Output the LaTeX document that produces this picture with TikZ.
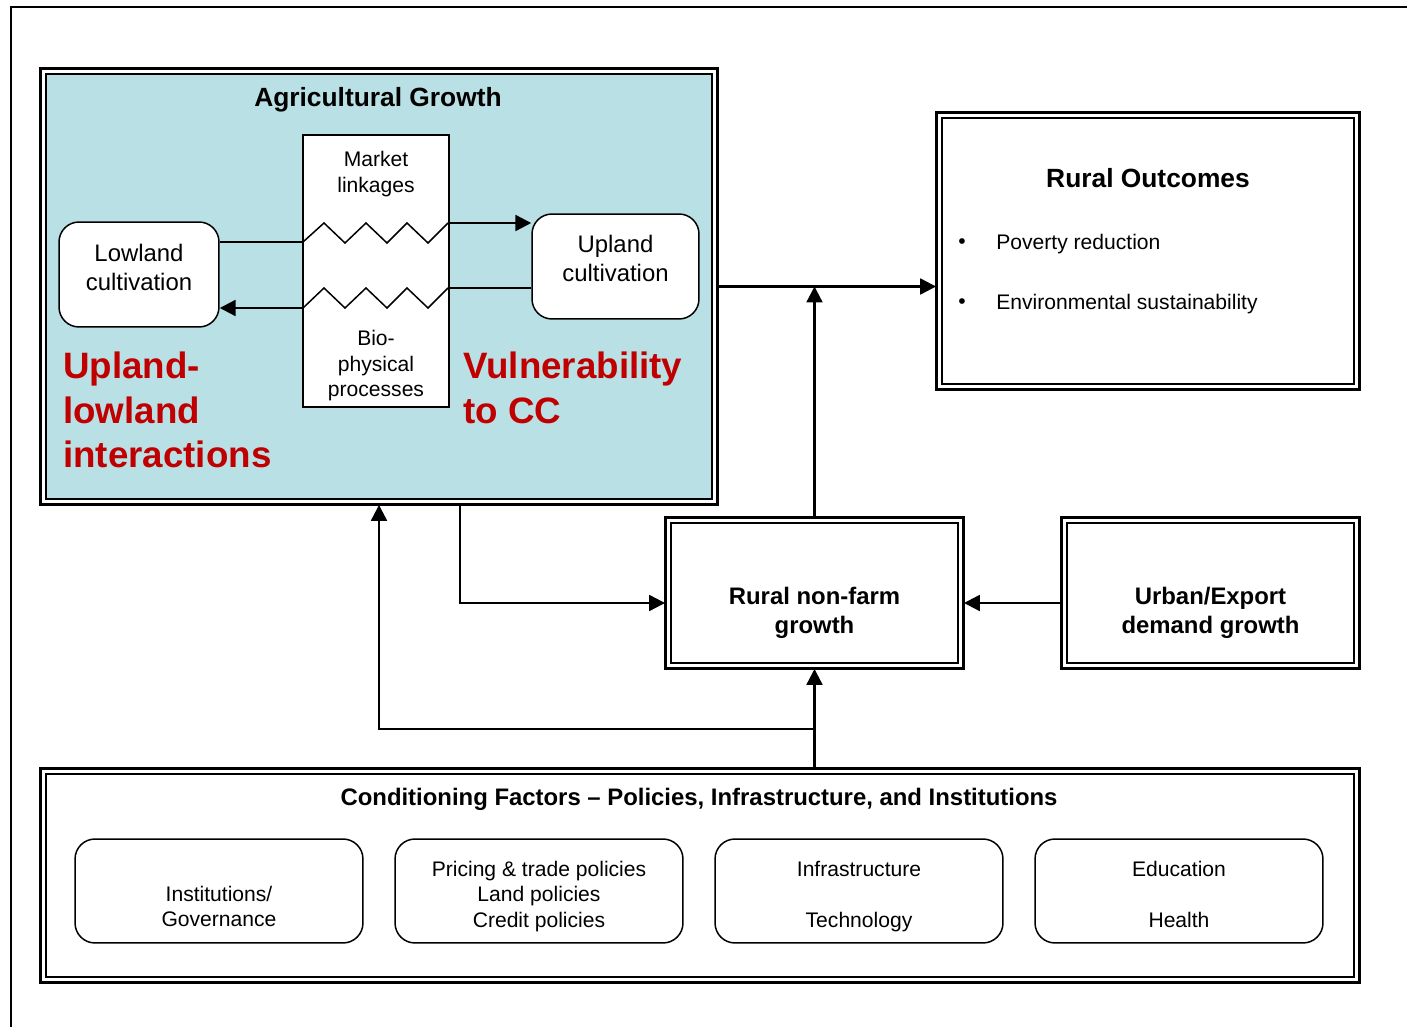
\documentclass[tikz,border=0pt]{standalone}
\usepackage{fontspec}
\setmainfont{Liberation Sans}
\usetikzlibrary{arrows.meta}
\definecolor{agblue}{RGB}{185,224,228}
\definecolor{vred}{RGB}{192,0,0}
\tikzset{
  >={Triangle[length=9pt,width=9pt]},
  dblbox/.style={draw,line width=1.7pt,outer sep=0pt,inner sep=0pt},
  rbox/.style={draw,line width=0.85pt,rounded corners=0.4cm,fill=white,inner sep=0pt},
  txs/.style={font=\fontsize{12}{14.5}\selectfont,align=center},
  txm/.style={font=\fontsize{13.6}{16.4}\selectfont,align=center},
  ttl/.style={font=\fontsize{15}{18}\selectfont\bfseries,align=center},
  ttm/.style={font=\fontsize{13.6}{16.4}\selectfont\bfseries,align=center},
  big/.style={font=\fontsize{20.9}{25.5}\selectfont\bfseries,text=vred,align=left,anchor=west,inner sep=0pt},
  fx/.style={txs,execute at begin node=\strut,execute at end node=\strut},
  lnk/.style={line width=1.3pt},
}
\begin{document}
\begin{tikzpicture}[x=0.02cm,y=-0.02cm]
    \useasboundingbox (0,0) rectangle (1407,1027);
    \draw[lnk] (11,1027) -- (11,7) -- (1407,7);
    % double framed boxes
    \node[dblbox,minimum width=13.56cm,minimum height=8.74cm] (agr) at (379,286.5) {};
    \node[dblbox,minimum width=8.48cm,minimum height=5.56cm] (out) at (1148,251) {};
    \node[dblbox,minimum width=5.98cm,minimum height=3.04cm] (rnf) at (814.5,593) {};
    \node[dblbox,minimum width=5.98cm,minimum height=3.04cm] (urb) at (1210.5,593) {};
    \node[dblbox,minimum width=26.4cm,minimum height=4.3cm] (cond) at (700,875.5) {};
    \foreach \n/\f in {agr/agblue,out/white,rnf/white,urb/white,cond/white}
      {\draw[line width=0.85pt,fill=\f] ([shift={(6,6)}]\n.north west) rectangle ([shift={(-6,-6)}]\n.south east);}
    % agricultural growth
    \node[ttl] (agt) at (378,100) {Agricultural Growth};
    \node[draw,fill=white,line width=0.85pt,minimum width=2.92cm,minimum height=5.44cm] (mid) at (376,271) {};
    \node[txs] (mkt) at (376,174) {Market\\linkages};
    \node[txs] (bio) at (376,366) {Bio-\\physical\\processes};
    \node[rbox,minimum width=3.2cm,minimum height=2.1cm] (low) at (139,274.5) {};
    \node[rbox,minimum width=3.34cm,minimum height=2.1cm] (upl) at (615.5,266.5) {};
    \node[txm] (lowt) at (139,267.5) {Lowland\\cultivation};
    \node[txm] (uplt) at (615.5,258.5) {Upland\\cultivation};
    \coordinate (za) at (303,242); \coordinate (zb) at (448,223);
    \coordinate (zc) at (303,308); \coordinate (zd) at (448,288);
    \draw[line width=0.85pt] (za) -- (324,223) -- (345,243) -- (366,223) -- (387,243) -- (407,223) -- (428,243) -- (zb);
    \draw[line width=0.85pt] (zc) -- (324,288) -- (345,308) -- (366,288) -- (387,308) -- (407,288) -- (428,308) -- (zd);
    \draw[line width=0.85pt] (low.east |- za) -- (za);
    \draw[lnk,->] (zb) -- (upl.west |- zb);
    \draw[line width=0.85pt] (upl.west |- zd) -- (zd);
    \draw[lnk,->] (zc) -- (low.east |- zc);
    \node[big] (uli) at (63,410) {Upland-\\lowland\\interactions};
    \node[big] (vcc) at (463,388) {Vulnerability\\to CC};
    % rural outcomes
    \node[ttl] (outt) at (1148,178) {Rural Outcomes};
    \node[txs] (b1) at (962,244) {\textbullet};
    \node[txs] (b2) at (962,304) {\textbullet};
    \node[txs,anchor=west,inner sep=0pt] (p1) at (996,244) {Poverty reduction};
    \node[txs,anchor=west,inner sep=0pt] (p2) at (996,304) {Environmental sustainability};
    % non-farm and demand
    \node[ttm] (rnft) at (814.5,613) {Rural non-farm\\growth};
    \node[ttm] (urbt) at (1210.5,613) {Urban/Export\\demand growth};
    % conditioning factors
    \node[ttm] (condt) at (699,799) {Conditioning Factors -- Policies, Infrastructure, and Institutions};
    \foreach \i in {0,...,3} {\node[rbox,minimum width=5.76cm,minimum height=2.08cm] (f\i) at (219+320*\i,891) {};}
    \node[fx] (f0t) at (219,910) {Institutions/\\Governance};
    \node[fx] (f1t) at (539,898) {Pricing \& trade policies\\Land policies\\Credit policies};
    \node[fx] (f2t) at (859,898) {Infrastructure\\[14.5pt]Technology};
    \node[fx] (f3t) at (1179,898) {Education\\[14.5pt]Health};
    % connectors
    \draw[lnk,->] (agr.east) -- (agr.east -| out.west);
    \draw[lnk,->] (rnf.north) -- (rnf.north |- agr.east);
    \draw[lnk,->] ([yshift=-0.2cm]urb.west) -- ([yshift=-0.2cm]rnf.east);
    \draw[lnk,->] ([xshift=1.62cm]agr.south) |- ([yshift=-0.2cm]rnf.west);
    \draw[lnk,->] (cond.north -| rnf.south) -- (rnf.south);
    \coordinate (jn) at (rnf.south |- 0,729);
    \draw[lnk,->] (jn) -| (agr.south);
  \end{tikzpicture}
\end{document}
